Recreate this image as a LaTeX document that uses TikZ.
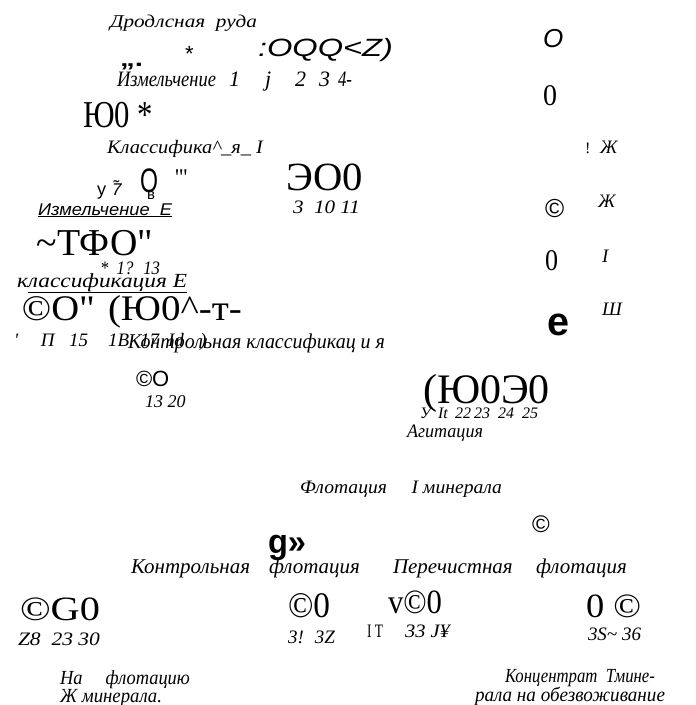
\documentclass[tikz,border=0pt]{standalone}
\usepackage{fontspec}
\usepackage{graphicx}
\setmainfont{Liberation Serif}
\newfontfamily\nsans{Liberation Sans}
\newcommand\fsz[1]{\fontsize{#1}{#1}\selectfont}
% set a text and stretch it horizontally to a given width (in pt)
\newsavebox\fitbox
\newcommand\fitx[2]{\sbox\fitbox{#2}\pgfmathsetmacro\fitsx{#1/\the\wd\fitbox}\scalebox{\fitsx}[1]{\usebox\fitbox}}
\tikzset{
  txt/.style={anchor=base west, inner sep=0pt, outer sep=0pt},
  lab/.style={txt, font=\itshape\fsz{#1}},
  lab/.default=19,
  big/.style={txt, font=\fsz{#1}},
  big/.default=36,
  sanstxt/.style={txt, font=\nsans\fsz{#1}},
  sansit/.style={txt, font=\nsans\itshape\fsz{#1}},
  sansbf/.style={txt, font=\nsans\bfseries\fsz{#1}},
}
\begin{document}
\begin{tikzpicture}[x=1pt,y=-1pt]
\useasboundingbox (0,0) rectangle (696,705);
% --- feed and primary grinding ---
\node[lab=18] (ore) at (110,27) {\fitx{147}{Дродлсная \ руда}};
\node[sansbf=22] (qmark) at (120,66) {\fitx{23}{„.}};
\node[sanstxt=22] (ast1) at (185,61) {*};
\node[sansit=25] (oqq) at (258,56) {\fitx{135}{:OQQ<Z)}};
\node[lab=22] (grindA) at (117,86) {\fitx{99}{Измельчение}};
\node[lab=22] (gA1) at (229,86) {1};
\node[lab=22] (gA2) at (265,86) {j};
\node[lab=22] (gA3) at (295,86) {2};
\node[lab=22] (gA4) at (319,86) {3};
\node[lab=22] (gA5) at (338,86) {\fitx{14}{4-}};
\node[big=38] (yu1) at (83,127) {\fitx{70}{Ю0 *}};
% --- classification I ---
\node[lab] (clsA) at (107,153) {\fitx{156}{Классифика\textasciicircum\_я\_ I}};
\node[sanstxt=18] (ysym) at (97,195) {у};
\node[sansit=17] (seven) at (112,195) {\~{7}};
\node[sanstxt=34] (circ) at (140,192) {\fitx{18}{O}};
\node[sanstxt=15] (vsym) at (147,199) {в};
\node[big=24] (quo) at (175,185) {\fitx{13}{\textquotesingle\textquotedbl}};
\node[big=40] (eo) at (286,190) {\fitx{77}{ЭО0}};
\node[lab] (eon) at (293,213) {\fitx{67}{3 \ 10 11}};
% --- grinding II ---
\node[sansit=17] (grindB) at (38,215) {\fitx{134}{\underline{Измельчение \ Е}}};
\node[big=38] (tfo) at (37,255) {\fitx{116}{\textasciitilde ТФО\textquotedbl}};
\node[lab] (tfon) at (100,274) {\fitx{60}{* \ 1? \ 13}};
\node[lab=20] (clsB) at (17,287) {\fitx{170}{к\underline{лассификация Е}}};
\node[big] (co) at (22,320) {\fitx{73}{©О\textquotedbl}};
\node[big] (yu2) at (108,320) {\fitx{134}{(Ю0\textasciicircum-т-}};
\node[lab] (cn1) at (14,346) {\textquotesingle};
\node[lab] (cn2) at (41,346) {П};
\node[lab] (cn3) at (69,346) {15};
\node[lab] (cn4) at (108,346) {1В};
\node[lab] (cn5) at (140,346) {17};
\node[lab] (cn6) at (168,346) {Id};
\node[lab] (cn7) at (200,346) {)};
\node[lab=21] (ctrlcls) at (128,348) {\fitx{257}{Контрольная классификац и я}};
\node[sanstxt=22] (co2) at (136,386) {©О};
\node[lab=18] (co2n) at (145,407) {13 20};
% --- agitation ---
\node[big=42] (yu3) at (423,403) {\fitx{127}{(Ю0Э0}};
\node[lab=16] (yn1) at (420,418) {У};
\node[lab=16] (yn2) at (438,418) {It};
\node[lab=16] (yn3) at (455,418) {22};
\node[lab=16] (yn4) at (474,418) {23};
\node[lab=16] (yn5) at (498,418) {24};
\node[lab=16] (yn6) at (522,418) {25};
\node[lab] (agit) at (407,437) {\fitx{76}{Агитация}};
% --- flotation ---
\node[lab] (flot) at (300,493) {\fitx{202}{Флотация \quad I минерала}};
\node[sanstxt=24] (cop) at (532,532) {©};
\node[sansbf=34] (gq) at (268,553) {\fitx{38}{g»}};
\node[lab=21] (fb1) at (131,573) {Контрольная};
\node[lab=21] (fb2) at (269,573) {флотация};
\node[lab=21] (fb3) at (393,573) {Перечистная};
\node[lab=21] (fb4) at (536,573) {флотация};
\node[big=34] (cg) at (20,620) {\fitx{80}{©G0}};
\node[lab] (cgn) at (18,645) {\fitx{82}{Z8 \ 23 30}};
\node[big] (c0) at (288,617) {\fitx{42}{©0}};
\node[lab] (c0n) at (288,643) {\fitx{47}{3! \ 3Z}};
\node[big=34] (vc) at (388,613) {\fitx{54}{v©0}};
\node[big=19] (itT) at (367,637) {\fitx{16}{I T}};
\node[lab] (vcn) at (405,637) {\fitx{45}{33 J¥}};
\node[big=34] (oc) at (586,617) {\fitx{55}{0 ©}};
\node[lab] (ocn) at (588,640) {\fitx{53}{3S\textasciitilde\ 36}};
\node[lab=20] (outA) at (60,684) {\fitx{130}{На \quad флотацию}};
\node[lab=20] (outA2) at (60,702) {\fitx{102}{Ж минерала.}};
\node[lab=20] (outB) at (505,682) {\fitx{150}{Концентрат \ Тмине-}};
\node[lab=20] (outB2) at (475,701) {\fitx{190}{рала на обезвоживание}};
% --- right-hand column ---
\node[sansit=26] (r1) at (543,47) {O};
\node[big=30] (r2) at (543,105) {\fitx{14}{0}};
\node[big=16] (r3) at (585,153) {!};
\node[lab] (r3b) at (600,153) {Ж};
\node[sanstxt=26] (r4) at (545,217) {©};
\node[lab] (r4b) at (598,207) {Ж};
\node[big=30] (r5) at (545,270) {\fitx{13}{0}};
\node[lab] (r5b) at (602,262) {I};
\node[sansbf=40] (r6) at (547,335) {\fitx{22}{e}};
\node[lab] (r6b) at (602,315) {Ш};
\end{tikzpicture}
\end{document}
